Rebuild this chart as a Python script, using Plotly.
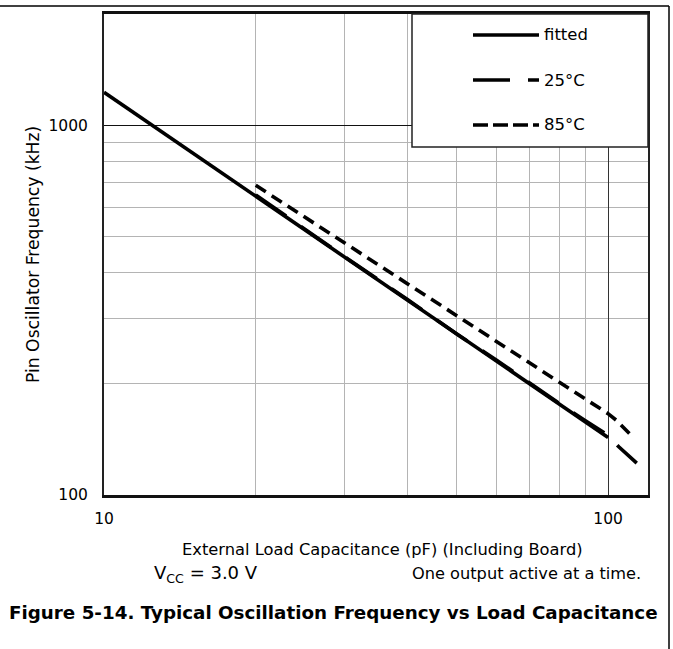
import plotly.graph_objects as go

# ---- data ----
cap_fitted = [10, 100]
freq_fitted = [1228, 143]

cap_25 = [20, 30, 40, 50, 60, 70, 80, 90, 100, 105, 114]
freq_25 = [648, 441, 338, 273, 232, 200, 177, 159, 145, 135, 122]

cap_85 = [20, 30, 40, 50, 60, 70, 80, 90, 100, 104, 112]
freq_85 = [688, 480, 372, 306, 260, 227, 202, 182, 166, 159, 143.5]

x_ticks = [10, 100]
x_minor = [20, 30, 40, 50, 60, 70, 80, 90]
y_ticks = [100, 1000]
y_minor = [200, 300, 400, 500, 600, 700, 800, 900]

legend_names = ["fitted", "25°C", "85°C"]

FONT = "DejaVu Sans, Liberation Sans, Arial, sans-serif"
W, H = 673, 649
L, R, T, B = 104, 648, 14, 495

def px(x):
    return (x - L) / (R - L)

def py(y):
    return (B - y) / (B - T)

fig = go.Figure()
fig.add_trace(go.Scatter(x=cap_fitted, y=freq_fitted, mode="lines", name=legend_names[0],
                         line=dict(color="black", width=3.6)))
fig.add_trace(go.Scatter(x=cap_25, y=freq_25, mode="lines", name=legend_names[1],
                         line=dict(color="black", width=3.6, dash="37px,18px")))
fig.add_trace(go.Scatter(x=cap_85, y=freq_85, mode="lines", name=legend_names[2],
                         line=dict(color="black", width=3.6, dash="12px,7px")))

shapes = []
annotations = []

# legend box (covers grid)
shapes.append(dict(type="rect", xref="paper", yref="paper", layer="above",
                   x0=px(412), x1=px(648), y0=py(147), y1=py(14),
                   fillcolor="white", line=dict(color="#222", width=1.5)))
leg_y = [35, 80, 125]
leg_dash = ["solid", "37px,18px", "15px,5px"]
for name, yy, d in zip(legend_names, leg_y, leg_dash):
    shapes.append(dict(type="line", xref="paper", yref="paper", layer="above",
                       x0=px(473), x1=px(539), y0=py(yy), y1=py(yy),
                       line=dict(color="black", width=3.6, dash=d)))
    annotations.append(dict(text=name, xref="paper", yref="paper", x=px(542), y=py(yy),
                            xanchor="left", yanchor="middle", showarrow=False,
                            font=dict(family=FONT, size=16.5, color="black")))

# outer frame lines (top and right)
shapes.append(dict(type="line", xref="paper", yref="paper", x0=px(0), x1=px(669),
                   y0=py(6), y1=py(6), line=dict(color="black", width=1.5)))
shapes.append(dict(type="line", xref="paper", yref="paper", x0=px(669), x1=px(669),
                   y0=py(6), y1=py(649), line=dict(color="black", width=1.5)))

annotations.append(dict(text="External Load Capacitance (pF) (Including Board)",
                        xref="paper", yref="paper", x=px(382), y=py(549),
                        xanchor="center", yanchor="middle", showarrow=False,
                        font=dict(family=FONT, size=16.3, color="black")))
annotations.append(dict(text="V<sub>CC</sub> = 3.0 V", xref="paper", yref="paper",
                        x=px(152), y=py(574), xanchor="left", yanchor="middle", showarrow=False,
                        font=dict(family=FONT, size=18, color="black")))
annotations.append(dict(text="One output active at a time.", xref="paper", yref="paper",
                        x=px(643), y=py(573), xanchor="right", yanchor="middle", showarrow=False,
                        font=dict(family=FONT, size=16.2, color="black")))
annotations.append(dict(text="<b>Figure 5-14. Typical Oscillation Frequency vs Load Capacitance</b>",
                        xref="paper", yref="paper", x=px(333), y=py(612),
                        xanchor="center", yanchor="middle", showarrow=False,
                        font=dict(family=FONT, size=18.3, color="black")))
annotations.append(dict(text="Pin Oscillator Frequency (kHz)", xref="paper", yref="paper",
                        x=px(33), y=py(255), xanchor="center", yanchor="middle",
                        textangle=-90, showarrow=False,
                        font=dict(family=FONT, size=17.2, color="black")))

fig.update_layout(
    width=W, height=H,
    margin=dict(l=L, r=W - R, t=T, b=H - B),
    paper_bgcolor="white", plot_bgcolor="white",
    showlegend=False,
    shapes=shapes, annotations=annotations,
    xaxis=dict(type="log", range=[1, 2.0792], tickmode="array", tickvals=x_ticks,
               ticktext=[str(v) for v in x_ticks], ticks="", ticklabelstandoff=8,
               showgrid=True, gridcolor="#333", gridwidth=1.2,
               minor=dict(tickmode="array", tickvals=x_minor, showgrid=True,
                          gridcolor="#b4b4b4", gridwidth=1.2, ticks=""),
               showline=True, linecolor="#111", linewidth=2.5, mirror=True,
               zeroline=False, tickfont=dict(family=FONT, size=15.5, color="black")),
    yaxis=dict(type="log", range=[2, 3.301], tickmode="array", tickvals=y_ticks,
               ticktext=[str(v) for v in y_ticks], ticks="", ticklabelstandoff=11,
               showgrid=True, gridcolor="#111", gridwidth=1.2,
               minor=dict(tickmode="array", tickvals=y_minor, showgrid=True,
                          gridcolor="#b4b4b4", gridwidth=1.2, ticks=""),
               showline=True, linecolor="#222", linewidth=2, mirror=True,
               zeroline=False, tickfont=dict(family=FONT, size=15.5, color="black")),
)

fig.write_html("out.html", config={"displayModeBar": False},
               post_script="document.body.style.margin='0px';")
